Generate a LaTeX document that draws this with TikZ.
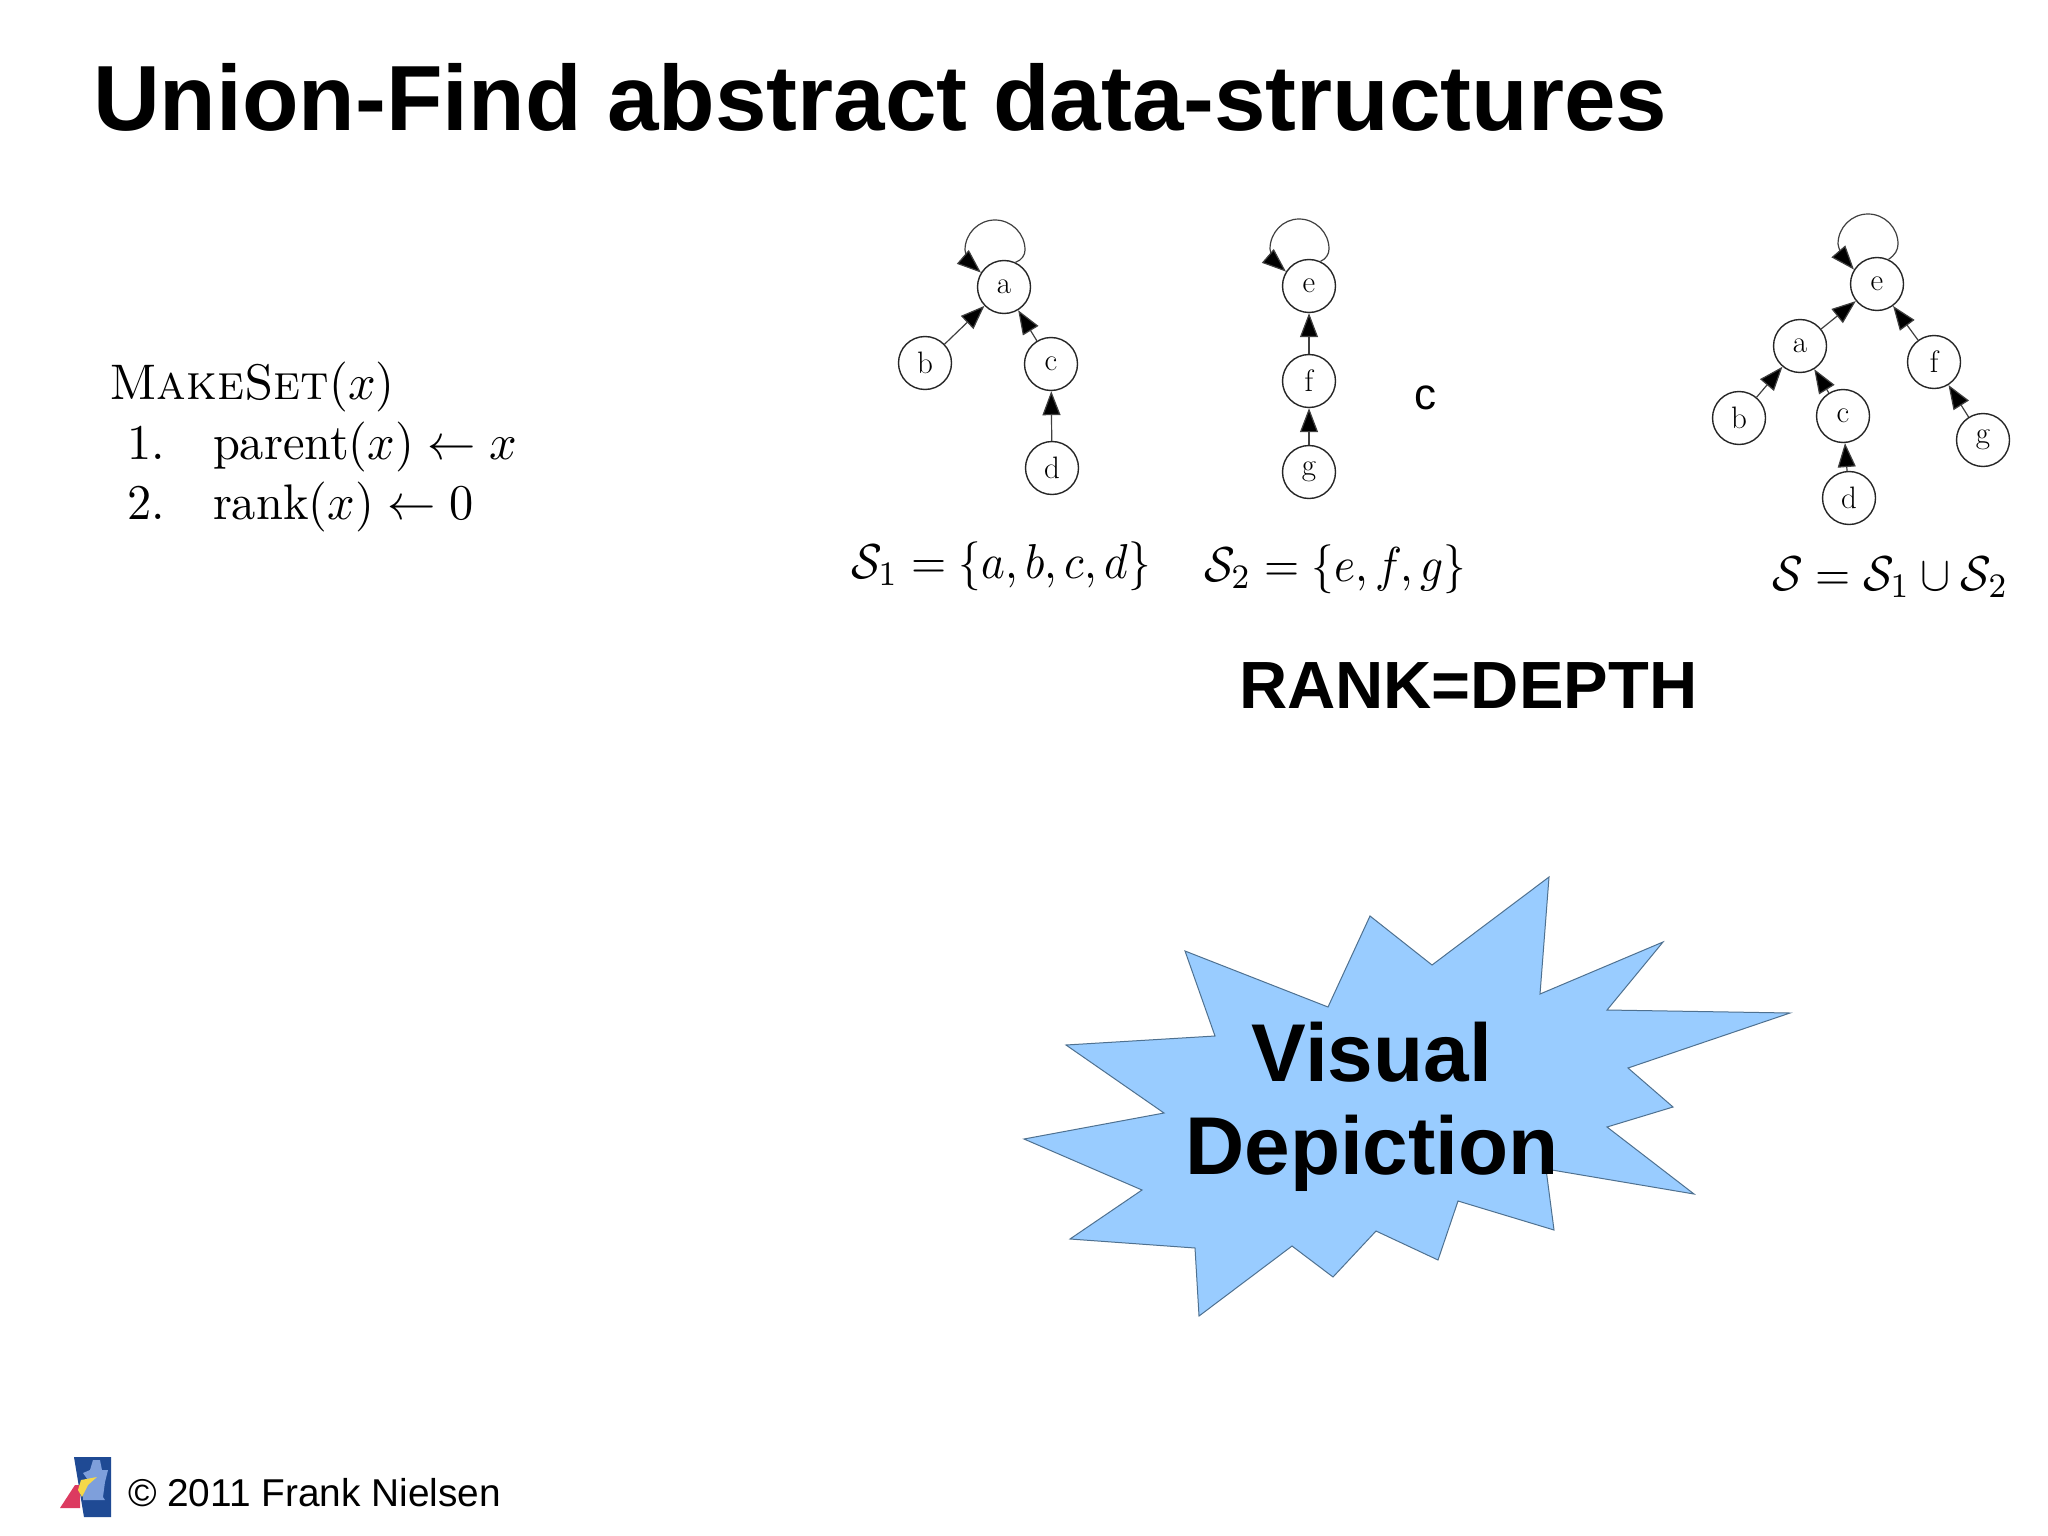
\documentclass[tikz,border=0pt]{standalone}
\usepackage{fontspec}
\usepackage{graphicx}
\newfontfamily\arialf{Liberation Sans}
\usetikzlibrary{arrows.meta}
\definecolor{starfill}{HTML}{99CCFF}
\definecolor{starline}{HTML}{4F7190}
\definecolor{logoblue}{HTML}{1F4A94}
\definecolor{logolight}{HTML}{7E9FDB}
\definecolor{logored}{HTML}{DC3A60}
\definecolor{logoyellow}{HTML}{F5D84A}
\tikzset{
  treenode/.style={draw=black!85,line width=0.7pt,circle,minimum size=26.5pt,inner sep=0pt,fill=white,font=\fontsize{15.5}{15.5}\selectfont},
  treeedge/.style={draw=black!75,line width=0.6pt,-{Triangle[length=12pt,width=9pt,fill=black]}},
  txt/.style={anchor=base west,inner sep=0pt,outer sep=0pt},
  sans/.style={txt,font=\arialf},
}
\newcommand{\mth}[1]{\scalebox{2.26}[2.45]{#1}}
\newcommand{\algo}[1]{\scalebox{2.42}[2.5]{#1}}
\begin{document}
\begin{tikzpicture}[x=0.5pt,y=-0.5pt]
\useasboundingbox (0,0) rectangle (2048,1535);
\fill[white] (0,0) rectangle (2048,1535);

% title
\node[sans,font=\arialf\bfseries\fontsize{46.3}{50}\selectfont] (title) at (93,131) {Union-Find abstract data-structures};

% MakeSet pseudo-code
\node[txt] (ms0) at (109,399) {\algo{\textsc{MakeSet}$(x)$}};
\node[txt] (ms1n) at (127,459) {\algo{1.}};
\node[txt] (ms1) at (213,459) {\algo{parent$(x)\leftarrow x$}};
\node[txt] (ms2n) at (127,519) {\algo{2.}};
\node[txt] (ms2) at (213,519) {\algo{rank$(x)\leftarrow 0$}};

% tree S1
\node[treenode] (a1) at (1004,287) {a};
\node[treenode] (b1) at (925,363) {b};
\node[treenode] (c1) at (1051,364) {c};
\node[treenode] (d1) at (1052,468) {d};
\draw[treeedge] (b1) -- (a1);
\draw[treeedge] (c1) -- (a1);
\draw[treeedge] (d1) -- (c1);
\draw[treeedge] (a1.65) .. controls (1022,260) and (1025,255) .. (1025,250) .. controls (1025,233.5) and (1011.5,220) .. (995,220) .. controls (978.5,220) and (965,233.5) .. (965,250) .. controls (965,254) and (971,264) .. (a1.148);

% tree S2
\node[treenode] (e2) at (1309,286) {e};
\node[treenode] (f2) at (1309,381) {f};
\node[treenode] (g2) at (1309,472) {g};
\draw[treeedge] (f2) -- (e2);
\draw[treeedge] (g2) -- (f2);
\draw[treeedge] (e2.65) .. controls (1326,259) and (1329,254) .. (1329,249) .. controls (1329,232.5) and (1315.5,219) .. (1299,219) .. controls (1283,219) and (1270,232.5) .. (1270,249) .. controls (1270,253) and (1276,263) .. (e2.148);

% merged tree
\node[treenode] (e3) at (1877,284) {e};
\node[treenode] (a3) at (1800,346) {a};
\node[treenode] (f3) at (1934,362) {f};
\node[treenode] (b3) at (1739,418) {b};
\node[treenode] (c3) at (1843,416) {c};
\node[treenode] (d3) at (1849,498) {d};
\node[treenode] (g3) at (1983,440) {g};
\draw[treeedge] (a3) -- (e3);
\draw[treeedge] (f3) -- (e3);
\draw[treeedge] (b3) -- (a3);
\draw[treeedge] (c3) -- (a3);
\draw[treeedge] (d3) -- (c3);
\draw[treeedge] (g3) -- (f3);
\draw[treeedge] (e3.65) .. controls (1895,255) and (1898,250) .. (1898,244) .. controls (1898,227.5) and (1884.5,214) .. (1868,214) .. controls (1851.5,214) and (1838,227.5) .. (1838,244) .. controls (1838,248) and (1844,258) .. (e3.148);

% set labels
\node[txt] (s1) at (851,578) {\mth{$\mathcal{S}_1=\{a,b,c,d\}$}};
\node[txt] (s2) at (1204,581) {\mth{$\mathcal{S}_2=\{e,f,g\}$}};
\node[txt] (s3) at (1772,590) {\mth{$\mathcal{S}=\mathcal{S}_1\cup\mathcal{S}_2$}};

% lone c
\node[sans,font=\arialf\fontsize{22}{24}\selectfont] (cc) at (1414,409) {c};

% RANK=DEPTH
\node[sans,font=\arialf\bfseries\fontsize{33.4}{38}\selectfont] (rank) at (1239,708) {RANK=DEPTH};

% starburst
\draw[fill=starfill,draw=starline,line width=0.5pt]
  (1549,877) -- (1540,994) -- (1663,942) -- (1607,1010) -- (1790,1013) -- (1628,1068)
  -- (1673,1107) -- (1607,1127) -- (1694,1194) -- (1546,1169) -- (1554,1230) -- (1458,1201)
  -- (1438,1260) -- (1376,1231) -- (1333,1277) -- (1292,1246) -- (1199,1316) -- (1195,1248)
  -- (1070,1239) -- (1142,1190) -- (1024,1139) -- (1164,1113) -- (1066,1045) -- (1215,1036)
  -- (1185,951) -- (1328,1007) -- (1370,916) -- (1432,965) -- cycle;
\node[anchor=base,inner sep=0pt,font=\arialf\bfseries\fontsize{41}{46}\selectfont] (vis) at (1372,1081) {Visual};
\node[anchor=base,inner sep=0pt,font=\arialf\bfseries\fontsize{41}{46}\selectfont] (dep) at (1372,1174) {Depiction};

% logo
\fill[logoblue] (74,1457) -- (111,1457) -- (111,1517) -- (84,1517) -- cycle;
\fill[logolight] (93,1460) -- (100,1460) -- (102,1470) -- (108,1470) -- (105,1482) -- (103,1497) -- (105,1500) -- (83,1500) -- (83,1495) -- (88,1480) -- (83,1473) -- (90,1470) -- cycle;
\fill[logored] (60,1508) -- (75,1485) -- (80,1485) -- (80,1508) -- cycle;
\fill[logoyellow] (78,1490) -- (81,1480) -- (97,1477) -- (88,1485) -- (82,1497) -- cycle;

% footer
\node[sans,font=\arialf\fontsize{19.4}{22}\selectfont] (foot) at (128,1506) {© 2011 Frank Nielsen};
\end{tikzpicture}
\end{document}
